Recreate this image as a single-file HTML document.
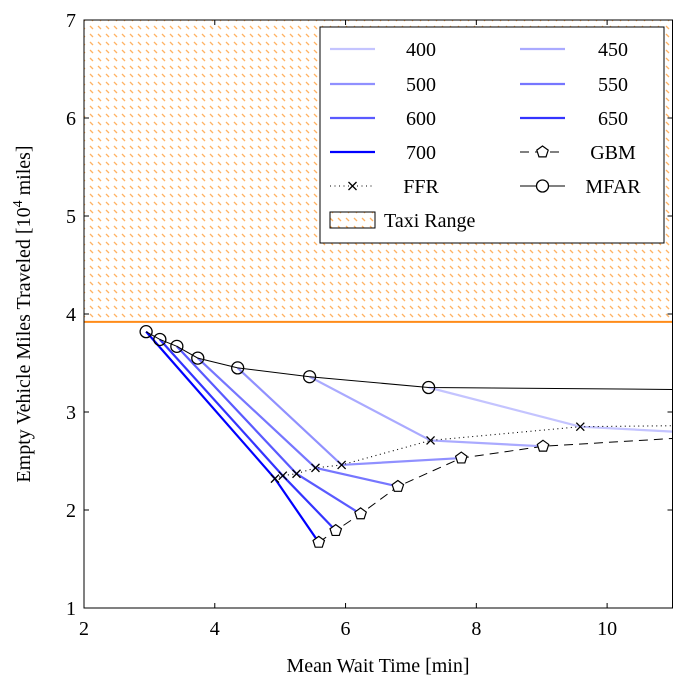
<!DOCTYPE html>
<html><head><meta charset="utf-8"><style>
body{margin:0;background:#fff;}
svg{display:block;font-family:"Liberation Serif",serif;}
</style></head><body>
<svg id="chart" width="693" height="690" xmlns="http://www.w3.org/2000/svg">
<defs>
<pattern id="hatch" width="8" height="8" patternUnits="userSpaceOnUse">
<line x1="2" y1="2" x2="5" y2="5" stroke="#ff9a30" stroke-width="1.3" opacity="0.75"/>
</pattern>
</defs>
<g id="plot"></g>
</svg>
<script>
const xTicks=[2,4,6,8,10];
const yTicks=[1,2,3,4,5,6,7];
const taxiMin=3.92;
const labels=["400","450","500","550","600","650","700"];
const colors=["#c4c4ff","#aaaaff","#9090ff","#7676ff","#5a5aff","#3434ff","#0000ff"];
const mfarX=[2.95,3.16,3.42,3.74,4.35,5.45,7.27,11];
const mfarY=[3.82,3.74,3.67,3.55,3.45,3.36,3.25,3.23];
const ffrX=[4.92,5.04,5.25,5.54,5.94,7.30,9.59,11];
const ffrY=[2.32,2.35,2.37,2.43,2.46,2.71,2.85,2.86];
const gbmX=[5.59,5.85,6.23,6.80,7.77,9.02,11];
const gbmY=[1.67,1.79,1.96,2.24,2.53,2.65,2.73];
const x400EndY=2.80;

const NS="http://www.w3.org/2000/svg";
const g=document.getElementById('plot');
const X0=84,X1=672.5,Y0=608,Y1=20;
const xs=v=>X0+(v-2)*(X1-X0)/9;
const ys=v=>Y0-(v-1)*(Y0-Y1)/6;
function mk(tag,attrs,parent){const e=document.createElementNS(NS,tag);for(const k in attrs)e.setAttribute(k,attrs[k]);(parent||g).appendChild(e);return e;}

let e=mk('rect',{x:X0,y:Y1,width:X1-X0,height:ys(taxiMin)-Y1,fill:'url(#hatch)'});


e=mk('line',{x1:X0,x2:X1,y1:ys(taxiMin),y2:ys(taxiMin),stroke:'#ff8c1a','stroke-width':2});



// blue series: order index 0=400 ... 6=700 ; mfar index reversed
for(let i=0;i<7;i++){
  const m=6-i;
  let pts=[[mfarX[m],mfarY[m]],[ffrX[m],ffrY[m]]];
  if(i===0) pts.push([11,x400EndY]); else pts.push([gbmX[m],gbmY[m]]);
  e=mk('polyline',{points:pts.map(p=>xs(p[0])+','+ys(p[1])).join(' '),fill:'none',stroke:colors[i],'stroke-width':2.2});
  
  
}
e=mk('polyline',{points:ffrX.map((v,i)=>xs(v)+','+ys(ffrY[i])).join(' '),fill:'none',stroke:'#000','stroke-width':1.1,'stroke-dasharray':'1 3.5'});


e=mk('polyline',{points:gbmX.map((v,i)=>xs(v)+','+ys(gbmY[i])).join(' '),fill:'none',stroke:'#000','stroke-width':1,'stroke-dasharray':'9 6'});


e=mk('polyline',{points:mfarX.map((v,i)=>xs(v)+','+ys(mfarY[i])).join(' '),fill:'none',stroke:'#000','stroke-width':1});



function pent(cx,cy,r){let p=[];for(let k=0;k<5;k++){const a=-Math.PI/2+k*2*Math.PI/5;p.push((cx+r*Math.cos(a))+','+(cy+r*Math.sin(a)));}return p.join(' ');}
function cross(cx,cy,s,parent){return mk('path',{d:`M${cx-s},${cy-s}L${cx+s},${cy+s}M${cx-s},${cy+s}L${cx+s},${cy-s}`,stroke:'#000','stroke-width':1.3},parent);}
for(let i=0;i<7;i++){e=cross(xs(ffrX[i]),ys(ffrY[i]),4);

}
for(let i=0;i<6;i++){e=mk('polygon',{points:pent(xs(gbmX[i]),ys(gbmY[i]),6),fill:'#fff',stroke:'#000','stroke-width':1.2});

}
for(let i=0;i<7;i++){e=mk('circle',{cx:xs(mfarX[i]),cy:ys(mfarY[i]),r:6,fill:'none',stroke:'#000','stroke-width':1.3});

}

// axes frame
e=mk('rect',{x:X0,y:Y1,width:X1-X0,height:Y0-Y1,fill:'none',stroke:'#000','stroke-width':1});


xTicks.forEach(v=>{
  mk('line',{x1:xs(v),x2:xs(v),y1:Y0,y2:Y0-5,stroke:'#000'});
  mk('line',{x1:xs(v),x2:xs(v),y1:Y1,y2:Y1+5,stroke:'#000'});
  const t=mk('text',{x:xs(v),y:Y0+27,'text-anchor':'middle','font-size':20});t.textContent=v;
  
  
});
yTicks.forEach(v=>{
  mk('line',{x1:X0,x2:X0+5,y1:ys(v),y2:ys(v),stroke:'#000'});
  mk('line',{x1:X1,x2:X1-5,y1:ys(v),y2:ys(v),stroke:'#000'});
  const t=mk('text',{x:X0-8,y:ys(v)+7,'text-anchor':'end','font-size':20});t.textContent=v;
  
  
});
e=mk('text',{x:378,y:672,'text-anchor':'middle','font-size':20});e.textContent='Mean Wait Time [min]';


e=mk('text',{x:0,y:0,'text-anchor':'middle','font-size':20,transform:'translate(30,314) rotate(-90)'});
e.innerHTML='Empty Vehicle Miles Traveled [10<tspan dy="-8" font-size="14">4</tspan><tspan dy="8"> miles]</tspan>';



// legend
const lg=mk('g',{});


mk('rect',{x:320,y:27,width:344,height:216,fill:'#fff',stroke:'#000','stroke-width':1},lg);
const rowsY=[49,84,118,152,186];
const entries=[["400",0],["450",1],["500",2],["550",3],["600",4],["650",5],["700",6],["GBM",'gbm'],["FFR",'ffr'],["MFAR",'mfar']];
entries.forEach((en,k)=>{
  const col=k%2,row=Math.floor(k/2);
  const lx=col?520:330,cy=rowsY[row];
  const eg=mk('g',{},lg);
  
  
  if(typeof en[1]==='number') mk('line',{x1:lx,x2:lx+45,y1:cy,y2:cy,stroke:colors[en[1]],'stroke-width':2.2},eg);
  else if(en[1]==='gbm'){mk('line',{x1:lx,x2:lx+45,y1:cy,y2:cy,stroke:'#000','stroke-dasharray':'9 6'},eg);mk('polygon',{points:pent(lx+22.5,cy,6),fill:'#fff',stroke:'#000','stroke-width':1.2},eg);}
  else if(en[1]==='ffr'){mk('line',{x1:lx,x2:lx+45,y1:cy,y2:cy,stroke:'#000','stroke-width':1.1,'stroke-dasharray':'1 3.5'},eg);cross(lx+22.5,cy,4,eg);}
  else {mk('line',{x1:lx,x2:lx+45,y1:cy,y2:cy,stroke:'#000'},eg);mk('circle',{cx:lx+22.5,cy:cy,r:6,fill:'#fff',stroke:'#000','stroke-width':1.3},eg);}
  const t=mk('text',{x:col?613:421,y:cy+7,'text-anchor':'middle','font-size':20},eg);t.textContent=en[0];
});
const tg=mk('g',{},lg);


mk('rect',{x:330,y:212,width:45,height:16,fill:'url(#hatch)',stroke:'#000','stroke-width':1},tg);
const tt=mk('text',{x:384,y:227,'font-size':20},tg);tt.textContent='Taxi Range';
</script>
</body></html>
